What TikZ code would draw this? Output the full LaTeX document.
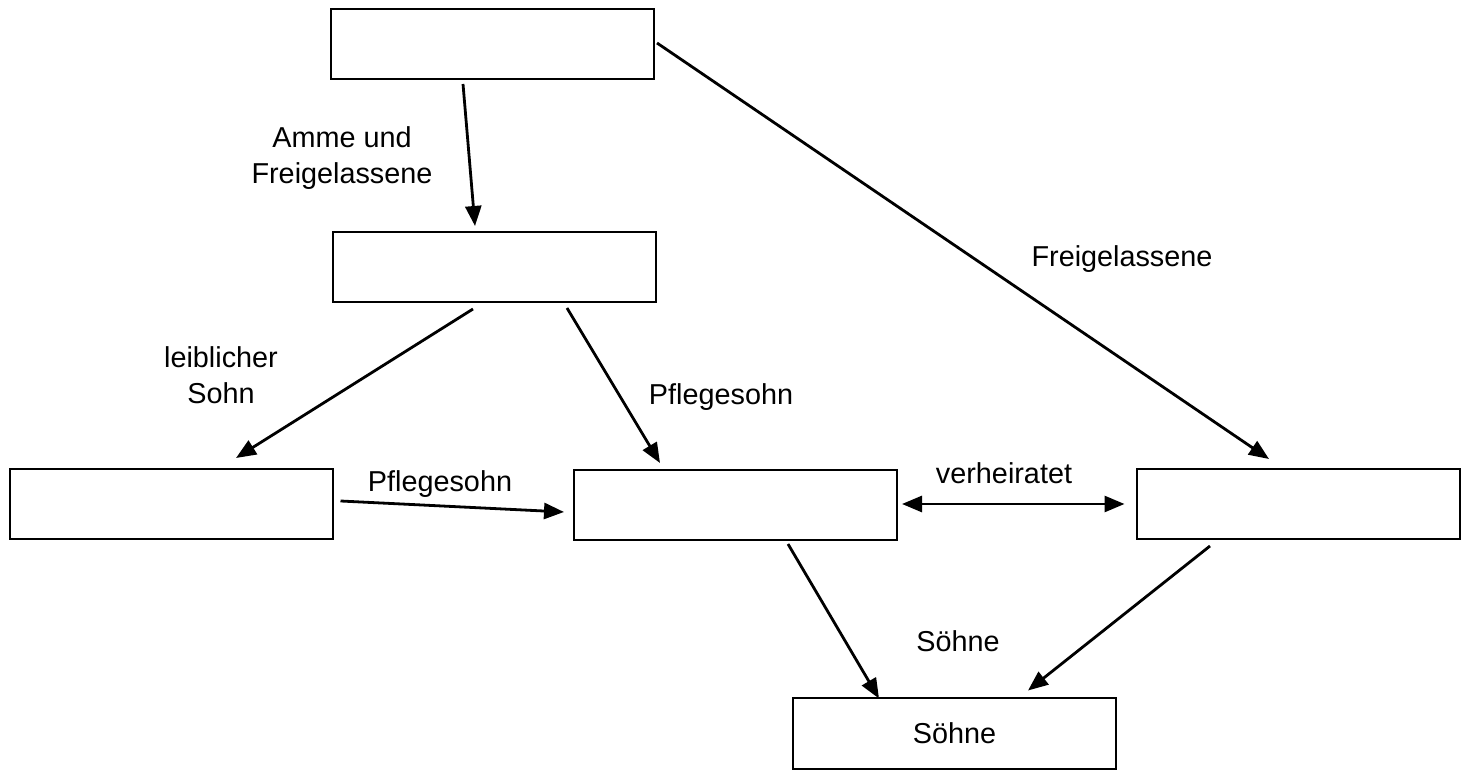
\documentclass[tikz,border=0pt]{standalone}
\usepackage{fontspec}
\setmainfont{Liberation Sans}
\usepackage{tikz}
\usetikzlibrary{arrows.meta,positioning,calc}

\tikzset{
  leer/.style={draw, line width=1pt, minimum width=161.5pt, minimum height=35pt, inner sep=0pt},
  spitze/.style={Triangle[length=10pt,width=8pt]},
  pfeil/.style={line width=1.4pt, -{Triangle[length=10pt,width=8pt]}},
  beschr/.style={align=center, font=\fontsize{14.4}{18}\selectfont}
}

\begin{document}
\begin{tikzpicture}[x=0.5pt, y=-0.5pt]
        \useasboundingbox (0,0) rectangle (1461,779);
        % Kaesten
        \node[leer] (oben) at (492.5,44) {};
        \node[leer] (mitte) at (494.5,267) {};
        \node[leer] (links) at (171,504) {};
        \node[leer] (zentral) at (735.5,505) {};
        \node[leer] (rechts) at (1298,504) {};
        \node[leer, beschr] (unten) at (954.5,733.5) {Söhne};
        % Pfeile
        \draw[pfeil] ($(oben.south)+(-29.5,4)$) -- ($(mitte.north)+(-19.5,-5)$);
        \draw[pfeil] ($(oben.east)+(2,-1)$) -- ($(rechts.north)+(-29,-9)$);
        \draw[pfeil] ($(mitte.south)+(-21.5,6)$) -- ($(links.north)+(65,-10)$);
        \draw[pfeil] ($(mitte.south)+(72.5,5)$) -- ($(zentral.north)+(-75.5,-6)$);
        \draw[pfeil] ($(links.east)+(7,-3)$) -- ($(zentral.west)+(-9,7)$);
        \draw[pfeil, {Triangle[length=10pt,width=8pt]}-{Triangle[length=10pt,width=8pt]}] ($(zentral.east)+(4,-1)$) -- ($(rechts.west)+(-11,0)$);
        \draw[pfeil] ($(zentral.south)+(52.5,3)$) -- ($(unten.north)+(-75.5,1)$);
        \draw[pfeil] ($(rechts.south)+(-88,6)$) -- ($(unten.north)+(73.5,-7)$);
        % Beschriftungen
        \node[beschr] (amme) at (342,158) {Amme und\\Freigelassene};
        \node[beschr] (frei) at (1122,259) {Freigelassene};
        \node[beschr] (leibl) at (221,375) {leiblicher\\Sohn};
        \node[beschr] (pflegeA) at (721,397) {Pflegesohn};
        \node[beschr] (pflegeB) at (440,484) {Pflegesohn};
        \node[beschr] (verh) at (1004,473) {verheiratet};
        \node[beschr] (soehne) at (958,641) {Söhne};
    \end{tikzpicture}
\end{document}
